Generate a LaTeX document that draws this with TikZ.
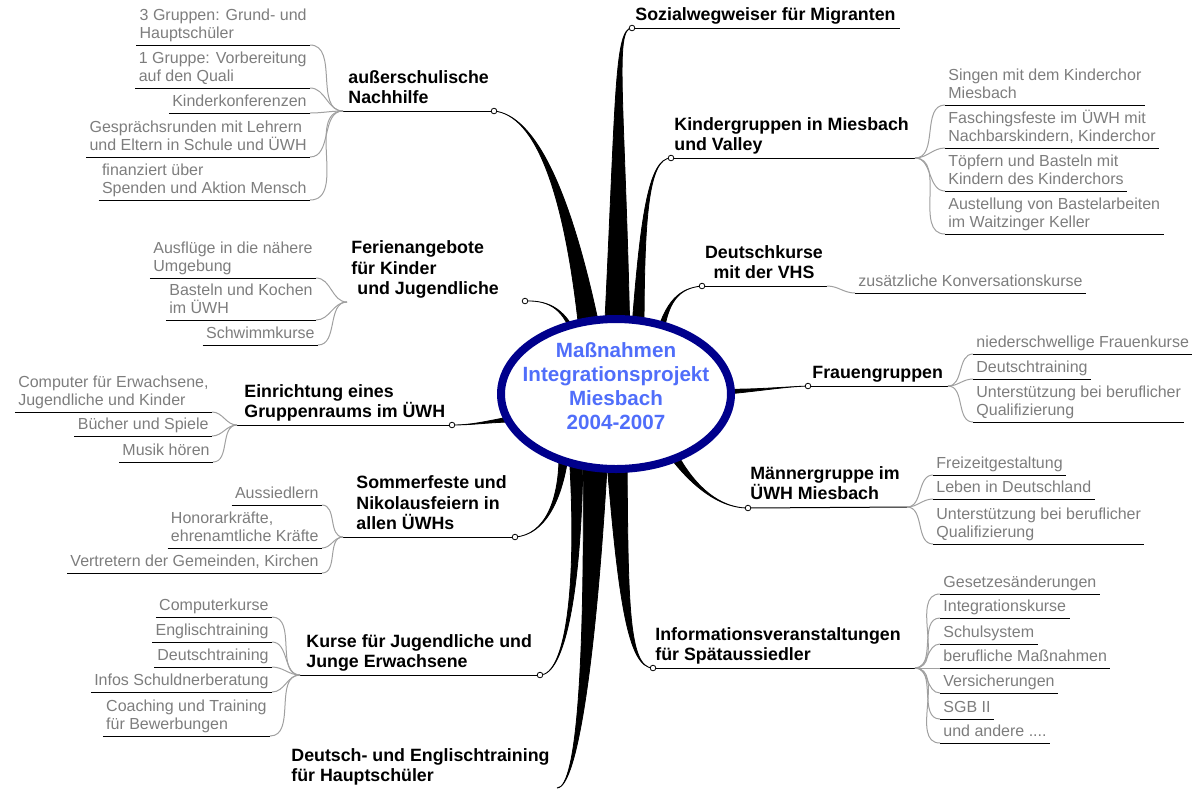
\documentclass[tikz,border=0pt]{standalone}
\usepackage{fontspec}
\setmainfont{Liberation Sans}
\usetikzlibrary{shapes.geometric}
\definecolor{hubblue}{RGB}{0,0,140}
\definecolor{hubtext}{RGB}{80,110,250}
\definecolor{subgray}{RGB}{125,125,125}
\definecolor{twiggray}{RGB}{160,160,160}
\tikzstyle{hub}=[ellipse,draw=hubblue,line width=4pt,fill=white,minimum width=115pt,minimum height=75pt,inner sep=0pt]
\tikzstyle{hubtitle}=[align=center,text=hubtext,font=\fontsize{10.3}{12}\selectfont\bfseries]
\tikzstyle{topic}=[align=left,inner xsep=0pt,inner ysep=0.5pt,font=\fontsize{8.9}{10.2}\selectfont\bfseries,execute at end node=\strut]
\tikzstyle{subtopic}=[align=left,inner xsep=1.5pt,inner ysep=0.3pt,text=subgray,font=\fontsize{8}{9.2}\selectfont,execute at end node=\strut]
\tikzstyle{knob}=[circle,draw=black,fill=white,line width=0.4pt,minimum size=2.8pt,inner sep=0pt]
\tikzstyle{uline}=[black,line width=0.5pt]
\tikzstyle{twig}=[twiggray,line width=0.5pt]
\begin{document}
\begin{tikzpicture}[x=0.5pt,y=-0.5pt]
\useasboundingbox (0,0) rectangle (1199,789);

%Ends and junctions
\coordinate (tA) at (494,111);
\coordinate (tB) at (525,301);
\coordinate (tC) at (452,425);
\coordinate (tD) at (515,537);
\coordinate (tE) at (540,675);
\coordinate (tF) at (557,788);
\coordinate (tG) at (632,28);
\coordinate (tH) at (671,158);
\coordinate (tI) at (702,286);
\coordinate (tJ) at (808,386);
\coordinate (tK) at (748,508);
\coordinate (tL) at (653,668);
\coordinate (jA) at (343,111);
\coordinate (jB) at (347,302);
\coordinate (jC) at (237,425);
\coordinate (jD) at (343,537);
\coordinate (jE) at (300,675);
\coordinate (jG) at (900,28);
\coordinate (jH) at (915,158);
\coordinate (jI) at (827,286);
\coordinate (jJ) at (948,386);
\coordinate (jK) at (907,507);
\coordinate (jL) at (915,668);

%Branches
  \foreach \tip/\ca/\cb/\cc/\bl/\br in {{tA/(535,115)/(565,190)/(572,190)/(580,340)/(602,340)}, {tB/(550,300)/(565,310)/(567,310)/(573,340)/(579,340)}, {tC/(475,425)/(490,420)/(490,422)/(515,416)/(515,422)}, {tD/(545,535)/(560,500)/(563,500)/(559,450)/(569,450)}, {tE/(565,675)/(578,590)/(582,590)/(569,450)/(583,450)}, {tF/(578,788)/(585,650)/(597,650)/(583,450)/(608,450)}, {tG/(614,28)/(616,100)/(625,100)/(604,340)/(630,340)}, {tH/(648,158)/(640,220)/(644,220)/(631,340)/(644,340)}, {tI/(680,288)/(665,300)/(667,300)/(655,340)/(663,340)}, {tJ/(780,387)/(755,390)/(755,392)/(715,389)/(715,395)}, {tK/(715,508)/(685,480)/(688,479)/(661,445)/(671,441)}, {tL/(628,668)/(618,600)/(628,600)/(606,450)/(627,450)}}
          \filldraw[line width=0.4pt] (\tip) .. controls \ca and \cb .. \bl -- \br .. controls \cc and \ca .. (\tip);

%Center
\node[hub] (projekt) at (616,394) {};
\node[hubtitle] (projekttitel) at (616,386) {Maßnahmen\\Integrationsprojekt\\Miesbach\\2004-2007};

%Main topics
    \foreach \pos/\name/\txt in {{(348,111)/nA/{außerschulische\\Nachhilfe}}, {(351,302)/nB/{Ferienangebote\\für Kinder\\\hspace{3pt}und Jugendliche}}, {(244,425)/nC/{Einrichtung eines\\Gruppenraums im ÜWH}}, {(356,537)/nD/{Sommerfeste und\\Nikolausfeiern in\\allen ÜWHs}}, {(306,675)/nE/{Kurse für Jugendliche und\\Junge Erwachsene}}, {(291,789)/nF/{Deutsch- und Englischtraining\\für Hauptschüler}}, {(635,28)/nG/{Sozialwegweiser für Migranten}}, {(674,158)/nH/{Kindergruppen in Miesbach\\und Valley}}, {(812,386)/nJ/{Frauengruppen}}, {(750,507)/nK/{Männergruppe im\\ÜWH Miesbach}}, {(655,668)/nL/{Informationsveranstaltungen\\für Spätaussiedler}}}
        \node[topic,anchor=south west] (\name) at \pos {\txt};
\node[topic,align=center,anchor=south] (nI) at (764,286) {Deutschkurse\\mit der VHS};
  \foreach \a/\b in {jA/tA, jC/tC, jD/tD, jE/tE, tG/jG, tH/jH, tI/jI, tJ/jJ, tK/jK, tL/jL}
          \draw[uline] (\a) -- (\b);
  \foreach \name in {A,B,C,D,E,G,H,I,J,K,L}
          \node[knob] (k\name) at (t\name) {};

%Left subtopics
    \foreach \pos/\name/\txt in {{(310,45)/a1/{3 Gruppen: Grund- und\\Hauptschüler}}, {(310,88)/a2/{1 Gruppe: Vorbereitung\\auf den Quali}}, {(310,113)/a3/{Kinderkonferenzen}}, {(310,157)/a4/{Gesprächsrunden mit Lehrern\\und Eltern in Schule und ÜWH}}, {(310,200)/a5/{finanziert über\\Spenden und Aktion Mensch}},
      {(316,278)/b1/{Ausflüge in die nähere\\Umgebung}}, {(316,320)/b2/{Basteln und Kochen\\im ÜWH}}, {(318,345)/b3/{Schwimmkurse}},
      {(212,412)/c1/{Computer für Erwachsene,\\Jugendliche und Kinder}}, {(212,436)/c2/{Bücher und Spiele}}, {(213,462)/c3/{Musik hören}},
      {(322,505)/d1/{Aussiedlern}}, {(322,548)/d2/{Honorarkräfte,\\ehrenamtliche Kräfte}}, {(322,573)/d3/{Vertretern der Gemeinden, Kirchen}},
      {(272,617)/e1/{Computerkurse}}, {(272,642)/e2/{Englischtraining}}, {(272,667)/e3/{Deutschtraining}}, {(272,692)/e4/{Infos Schuldnerberatung}}, {(270,736)/e5/{Coaching und Training\\für Bewerbungen}}}
        \node[subtopic,anchor=south east] (\name) at \pos {\txt};
  \foreach \source/\dest in {jA/a1, jA/a2, jA/a3, jA/a4, jA/a5, jB/b1, jB/b2, jB/b3, jC/c1, jC/c2, jC/c3, jD/d1, jD/d2, jD/d3, jE/e1, jE/e2, jE/e3, jE/e4, jE/e5}
          \draw[twig] (\source) to[out=180,in=0] (\dest.south east);

%Right subtopics
    \foreach \pos/\name/\txt in {{(945,105)/h1/{Singen mit dem Kinderchor\\Miesbach}}, {(945,148)/h2/{Faschingsfeste im ÜWH mit\\Nachbarskindern, Kinderchor}}, {(945,191)/h3/{Töpfern und Basteln mit\\Kindern des Kinderchors}}, {(945,234)/h4/{Austellung von Bastelarbeiten\\im Waitzinger Keller}},
      {(855,293)/i1/{zusätzliche Konversationskurse}},
      {(973,354)/j1/{niederschwellige Frauenkurse}}, {(973,379)/j2/{Deutschtraining}}, {(973,422)/j3/{Unterstützung bei beruflicher\\Qualifizierung}},
      {(933,475)/k1/{Freizeitgestaltung}}, {(933,499)/k2/{Leben in Deutschland}}, {(933,544)/k3/{Unterstützung bei beruflicher\\Qualifizierung}},
      {(940,594)/l1/{Gesetzesänderungen}}, {(940,618)/l2/{Integrationskurse}}, {(940,644)/l3/{Schulsystem}}, {(940,668)/l4/{berufliche Maßnahmen}}, {(940,693)/l5/{Versicherungen}}, {(940,719)/l6/{SGB II}}, {(940,743)/l7/{und andere ....}}}
        \node[subtopic,anchor=south west] (\name) at \pos {\txt};
  \foreach \source/\dest in {jH/h1, jH/h2, jH/h3, jH/h4, jI/i1, jJ/j1, jJ/j2, jJ/j3, jK/k1, jK/k2, jK/k3, jL/l1, jL/l2, jL/l3, jL/l4, jL/l5, jL/l6, jL/l7}
          \draw[twig] (\source) to[out=0,in=180] (\dest.south west);

%Underlines
  \foreach \name in {a1,a2,a3,a4,a5,b1,b2,b3,c1,c2,c3,d1,d2,d3,e1,e2,e3,e4,e5,h1,h2,h3,h4,i1,j1,j2,j3,k1,k2,k3,l1,l2,l3,l4,l5,l6,l7}
          \draw[uline] (\name.south west) -- (\name.south east);

\end{tikzpicture}
\end{document}
